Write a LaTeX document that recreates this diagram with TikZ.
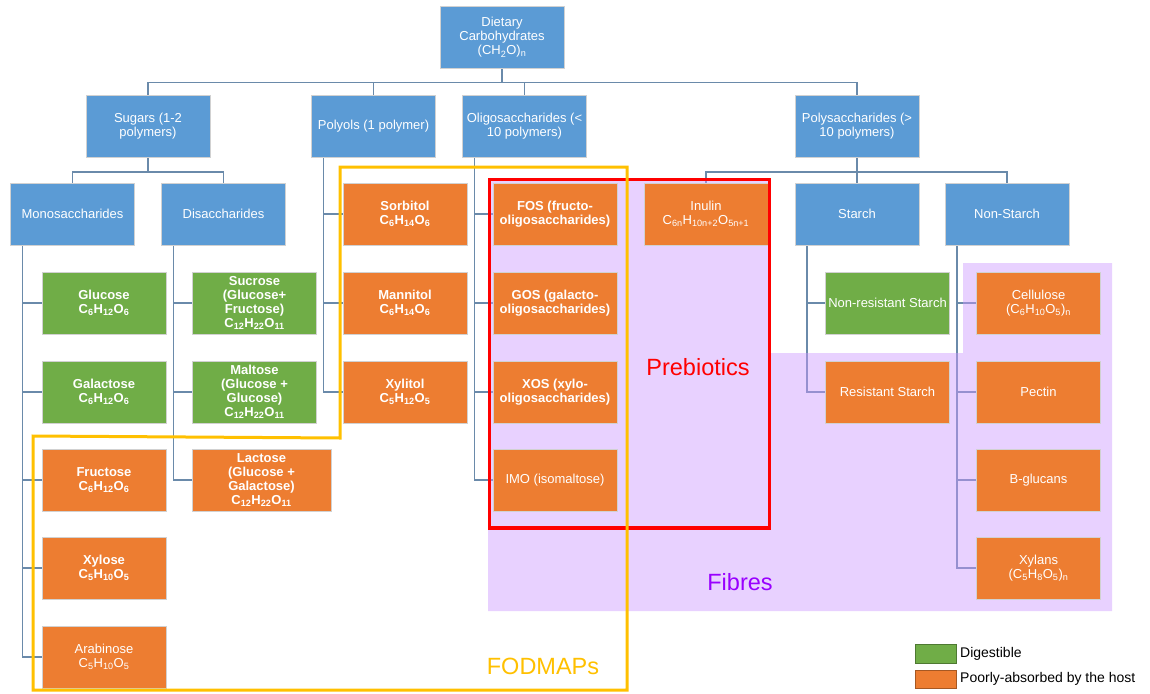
\documentclass[tikz,border=0pt]{standalone}
\usepackage{fontspec}
\setmainfont{Liberation Sans}
\definecolor{cblue}{HTML}{5B9BD5}
\definecolor{cgreen}{HTML}{70AD47}
\definecolor{corange}{HTML}{ED7D31}
\definecolor{cline}{RGB}{106,138,170}
\definecolor{cfibre}{RGB}{204,153,255}
\definecolor{cfibtext}{RGB}{153,0,255}
\definecolor{cyellow}{HTML}{FFC000}
\newcommand{\chform}[3]{C\textsubscript{#1}H\textsubscript{#2}O\textsubscript{#3}}
\pgfdeclarelayer{lines}
\pgfdeclarelayer{fibre}
\pgfsetlayers{lines,fibre,main}
\tikzset{
  cbox/.style={rectangle, draw=white!82!black, line width=0.8pt, text=white, align=center,
    minimum width=124, minimum height=62, inner sep=1pt, font=\fontsize{13}{14}\selectfont},
  blubox/.style={cbox, fill=cblue},
  grnbox/.style={cbox, fill=cgreen, font=\fontsize{13}{14}\selectfont\bfseries},
  orgbox/.style={cbox, fill=corange},
  orgbold/.style={orgbox, font=\fontsize{13}{14}\selectfont\bfseries},
  conn/.style={draw=cline, line width=1.5pt},
  biglabel/.style={font=\fontsize{23.5}{26}\selectfont}
}
\begin{document}
\begin{tikzpicture}[line cap=rect,line join=miter,x=1pt,y=-1pt]
\useasboundingbox (0,0) rectangle (1150,693);
% top two levels
\node[blubox] (diet) at (502,37.5) {Dietary\\Carbohydrates\\(CH\textsubscript{2}O)\textsubscript{n}};
\node[blubox] (sug) at (148,126.5) {Sugars (1-2\\polymers)};
\node[blubox] (poly) at (373.5,126.5) {Polyols (1 polymer)};
\node[blubox] (oligo) at (524.5,126.5) {Oligosaccharides (<\\10 polymers)};
\node[blubox] (polys) at (857,126.5) {Polysaccharides (>\\10 polymers)};
\node[blubox] (mono) at (72.5,214) {Monosaccharides};
\node[blubox] (di) at (223.5,214) {Disaccharides};
\node[blubox] (starch) at (857,214) {Starch};
\node[blubox] (nonst) at (1007,214) {Non-Starch};
% sugars
\node[grnbox] (glu) at (104,303) {Glucose\\\chform{6}{12}{6}};
\node[grnbox] (gal) at (104,392) {Galactose\\\chform{6}{12}{6}};
\node[orgbold] (fru) at (104,480) {Fructose\\\chform{6}{12}{6}};
\node[orgbold] (xylo) at (104,568) {Xylose\\\chform{5}{10}{5}};
\node[orgbox] (arab) at (104,657) {Arabinose\\\chform{5}{10}{5}};
\node[grnbox] (suc) at (254.5,303) {Sucrose\\(Glucose+\\Fructose)\\\chform{12}{22}{11}};
\node[grnbox] (malt) at (254.5,392) {Maltose\\(Glucose +\\Glucose)\\\chform{12}{22}{11}};
\node[orgbold, minimum width=139] (lac) at (261.5,480) {Lactose\\(Glucose +\\Galactose)\\\chform{12}{22}{11}};
% polyols
\node[orgbold] (sorb) at (405,214) {Sorbitol\\\chform{6}{14}{6}};
\node[orgbold] (mann) at (405,303) {Mannitol\\\chform{6}{14}{6}};
\node[orgbold] (xylit) at (405,392) {Xylitol\\\chform{5}{12}{5}};
% oligosaccharides
\node[orgbold] (fos) at (555,214) {FOS (fructo-\\oligosaccharides)};
\node[orgbold] (gos) at (555,303) {GOS (galacto-\\oligosaccharides)};
\node[orgbold] (xos) at (555,392) {XOS (xylo-\\oligosaccharides)};
\node[orgbox] (imo) at (555,480) {IMO (isomaltose)};
% polysaccharides
\node[orgbox] (inul) at (706,214) {Inulin\\C\textsubscript{6n}H\textsubscript{10n+2}O\textsubscript{5n+1}};
\node[grnbox, font=\fontsize{13}{14}\selectfont] (nrs) at (887.5,303) {Non-resistant Starch};
\node[orgbox] (rs) at (887.5,392) {Resistant Starch};
\node[orgbox] (cell) at (1038.5,303) {Cellulose\\(\chform{6}{10}{5})\textsubscript{n}};
\node[orgbox] (pect) at (1038.5,392) {Pectin};
\node[orgbox] (bglu) at (1038.5,480) {B-glucans};
\node[orgbox] (xyla) at (1038.5,568) {Xylans\\(\chform{5}{8}{5})\textsubscript{n}};
% connectors
\begin{pgfonlayer}{lines}
\foreach \c in {sug,poly,oligo,polys}
  \draw[conn] (diet.south) -- ++(0,13.5) -| (\c.north);
\foreach \c in {mono,di}
  \draw[conn] (sug.south) -- ++(0,14) -| (\c.north);
\foreach \c in {inul,starch,nonst}
  \draw[conn] (polys.south) -- ++(0,14) -| (\c.north);
\foreach \c in {glu,gal,fru,xylo,arab}
  \draw[conn] ([xshift=12.5]mono.south west) |- (\c.west);
\foreach \c in {suc,malt,lac}
  \draw[conn] ([xshift=12.5]di.south west) |- (\c.west);
\foreach \c in {sorb,mann,xylit}
  \draw[conn] ([xshift=12.5]poly.south west) |- (\c.west);
\foreach \c in {fos,gos,xos,imo}
  \draw[conn] ([xshift=12.5]oligo.south west) |- (\c.west);
\foreach \c in {nrs,rs}
  \draw[conn] ([xshift=12.5]starch.south west) |- (\c.west);
\foreach \c in {cell,pect,bglu,xyla}
  \draw[conn] ([xshift=12.5]nonst.south west) |- (\c.west);
\end{pgfonlayer}
% fibres area
\begin{pgfonlayer}{fibre}
\fill[cfibre, fill opacity=0.45] (488,178) -- (770,178) -- (770,353) -- (963,353) -- (963,263)
  -- (1112,263) -- (1112,611) -- (488,611) -- cycle;
\end{pgfonlayer}
% groupings
\draw[red, line width=3.5pt] (489.5,179.5) rectangle (769.5,528);
\draw[cyellow, line width=3pt] (33,436) -- (340,438) -- (340,167) -- (627,167) -- (627,690)
  -- (33,690) -- cycle;
\node[biglabel, text=red] (preb) at (698,367) {Prebiotics};
\node[biglabel, text=cfibtext] (fib) at (740,582) {Fibres};
\node[biglabel, text=cyellow] (fodm) at (543,666) {FODMAPs};
% legend
\draw[fill=cgreen, draw=cgreen!70!black, line width=1pt] (915,644) rectangle (956,663);
\draw[fill=corange, draw=corange!70!black, line width=1pt] (915,670) rectangle (956,688);
\node[anchor=west, font=\fontsize{14}{16}\selectfont, inner sep=0pt] (dig) at (960,654) {Digestible};
\node[anchor=west, font=\fontsize{14}{16}\selectfont, inner sep=0pt] (poor) at (960,679) {Poorly-absorbed by the host};
\end{tikzpicture}
\end{document}
